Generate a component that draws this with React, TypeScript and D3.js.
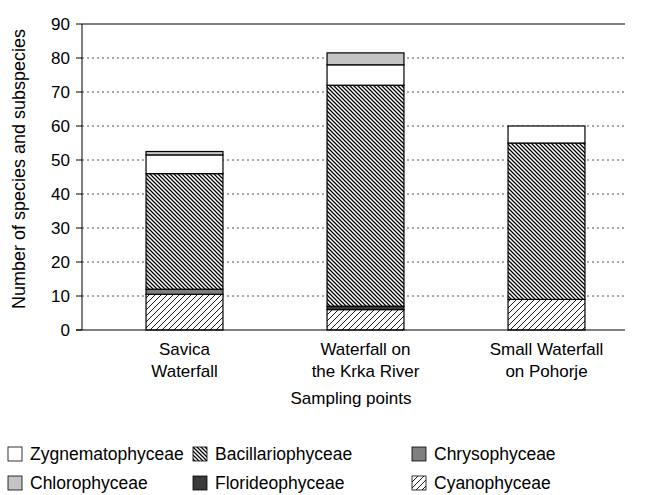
import * as d3 from "d3"

// sampling points (two-line labels)
const sites = ["Savica Waterfall", "Waterfall on the Krka River", "Small Waterfall on Pohorje"]
const siteLines = [
  ["Savica", "Waterfall"],
  ["Waterfall on", "the Krka River"],
  ["Small Waterfall", "on Pohorje"],
]

// stacking order, bottom to top
const groups = ["Cyanophyceae", "Florideophyceae", "Chrysophyceae", "Bacillariophyceae", "Zygnematophyceae", "Chlorophyceae"]

const cyano = [10.5, 6, 9]
const florideo = [0, 1, 0]
const chryso = [1.5, 0, 0]
const bacillario = [34, 65, 46]
const zygnemato = [5.5, 6, 5]
const chloro = [1, 3.5, 0]

const yTicks = [0, 10, 20, 30, 40, 50, 60, 70, 80, 90]

const legendRows = [
  ["Zygnematophyceae", "Bacillariophyceae", "Chrysophyceae"],
  ["Chlorophyceae", "Florideophyceae", "Cyanophyceae"],
]

const fills: Record<string, string> = {
  Zygnematophyceae: "#ffffff",
  Bacillariophyceae: "url(#bac)",
  Chrysophyceae: "#7f7f7f",
  Chlorophyceae: "#c4c4c4",
  Florideophyceae: "#3a3a3a",
  Cyanophyceae: "url(#cya)",
}

const font = "Liberation Sans, Arial, sans-serif"

export default function App() {
  const width = 650
  const height = 495
  const left = 82
  const right = 625
  const top = 24
  const bottom = 330

  const rows = sites.map((s, i) => ({
    site: s,
    Cyanophyceae: cyano[i],
    Florideophyceae: florideo[i],
    Chrysophyceae: chryso[i],
    Bacillariophyceae: bacillario[i],
    Zygnematophyceae: zygnemato[i],
    Chlorophyceae: chloro[i],
  }))
  const stacked = d3.stack<any>().keys(groups)(rows)

  // bars sit a little right of centre in the plot area
  const x = d3.scaleBand().domain(sites).range([left + 12, right + 12]).paddingInner(0.575).paddingOuter(0.2875)
  const y = d3.scaleLinear().domain([0, 90]).range([bottom, top])

  const legendX = [8, 193, 412]
  const legendY = [447, 476]

  return (
    <svg width={width} height={height} style={{ position: "absolute", left: 0, top: 0, background: "#fff" }}>
      <defs>
        {/* "\\" hatching, dense */}
        <pattern id="bac" width="4" height="4" patternUnits="userSpaceOnUse">
          <rect width="4" height="4" fill="#fff" />
          <path d="M-1,3 L1,5 M0,0 L4,4 M3,-1 L5,1" stroke="#000" strokeWidth="1.25" />
        </pattern>
        {/* "//" hatching, lighter */}
        <pattern id="cya" width="6" height="6" patternUnits="userSpaceOnUse">
          <rect width="6" height="6" fill="#fff" />
          <path d="M-1,1 L1,-1 M0,6 L6,0 M5,7 L7,5" stroke="#000" strokeWidth="0.9" />
        </pattern>
      </defs>

      {/* grid */}
      {yTicks.filter((t) => t > 0 && t < 90).map((t) => (
        <line key={t} x1={left} x2={right} y1={y(t)} y2={y(t)} stroke="#555" strokeDasharray="2,3" strokeWidth={1} />
      ))}
      <line x1={left} x2={right} y1={y(90)} y2={y(90)} stroke="#000" />

      {/* bars */}
      {stacked.map((layer) => (
        <g key={layer.key}>
          {layer.map((d, i) =>
            d[1] - d[0] > 0 ? (
              <rect
                key={i}
                x={x(sites[i])}
                width={x.bandwidth()}
                y={y(d[1])}
                height={y(d[0]) - y(d[1])}
                fill={fills[layer.key]}
                stroke="#000"
                strokeWidth={1.2}
              />
            ) : null
          )}
        </g>
      ))}

      {/* axes */}
      <line x1={left} x2={left} y1={top} y2={bottom} stroke="#000" />
      <line x1={left - 6} x2={right} y1={bottom} y2={bottom} stroke="#000" />
      {yTicks.map((t) => (
        <g key={t}>
          <line x1={left - 6} x2={left} y1={y(t)} y2={y(t)} stroke="#000" />
          <text x={left - 12} y={y(t)} dy="0.36em" textAnchor="end" fontFamily={font} fontSize={17}>
            {t}
          </text>
        </g>
      ))}
      <text
        transform={`translate(25,${(top + bottom) / 2 - 8}) rotate(-90)`}
        textAnchor="middle"
        fontFamily={font}
        fontSize={18}
      >
        Number of species and subspecies
      </text>

      {siteLines.map((lines, i) => (
        <text key={i} textAnchor="middle" fontFamily={font} fontSize={17}>
          {lines.map((l, j) => (
            <tspan key={j} x={(x(sites[i]) as number) + x.bandwidth() / 2} y={355 + j * 22}>
              {l}
            </tspan>
          ))}
        </text>
      ))}
      <text x={351} y={404} textAnchor="middle" fontFamily={font} fontSize={17}>
        Sampling points
      </text>

      {/* legend */}
      {legendRows.map((row, r) =>
        row.map((name, c) => (
          <g key={name} transform={`translate(${legendX[c]},${legendY[r]})`}>
            <rect width={14} height={14} fill={fills[name]} stroke="#000" strokeWidth={0.8} />
            <text x={22} y={7} dy="0.36em" fontFamily={font} fontSize={17.5}>
              {name}
            </text>
          </g>
        ))
      )}
    </svg>
  )
}
